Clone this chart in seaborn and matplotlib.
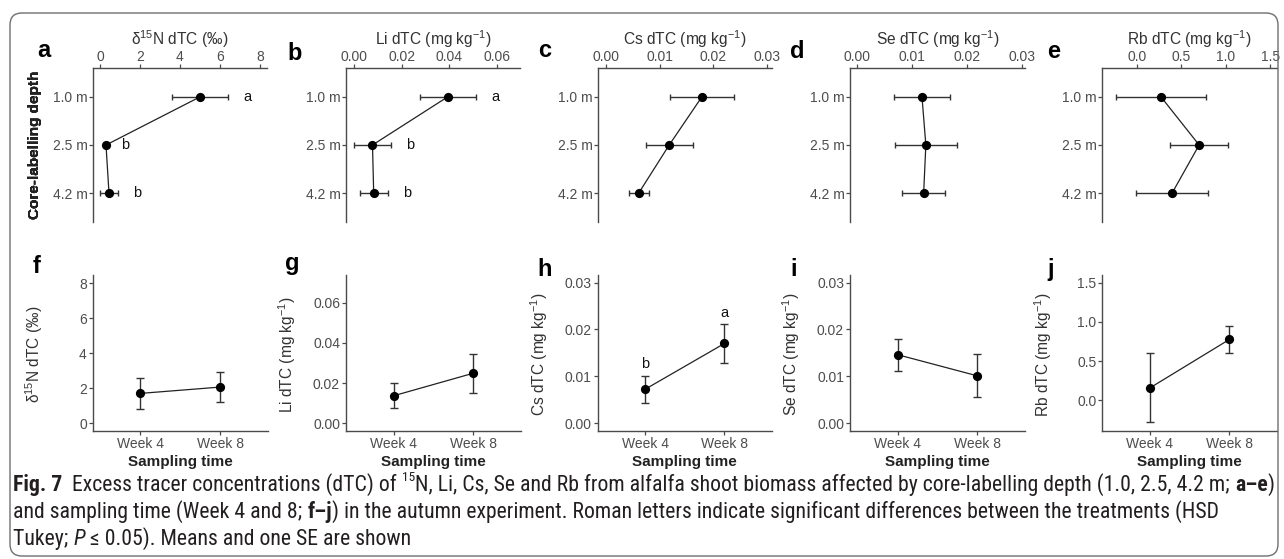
import matplotlib
matplotlib.use("Agg")
import matplotlib.pyplot as plt
import seaborn as sns
import numpy as np
from matplotlib import font_manager
from matplotlib.patches import FancyBboxPatch
from matplotlib.ticker import FormatStrFormatter

# ---------------- data ----------------
depth_labels = ["1.0 m", "2.5 m", "4.2 m"]
week_labels = ["Week 4", "Week 8"]

n15_depth_mean = [5.00, 0.30, 0.45]
n15_depth_se = [1.39, 0.00, 0.43]
li_depth_mean = [0.0393, 0.0078, 0.0083]
li_depth_se = [0.0117, 0.0078, 0.0058]
cs_depth_mean = [0.0179, 0.0118, 0.0061]
cs_depth_se = [0.0060, 0.0044, 0.0019]
se_depth_mean = [0.0118, 0.0125, 0.0121]
se_depth_se = [0.0051, 0.0056, 0.0039]
rb_depth_mean = [0.27, 0.70, 0.395]
rb_depth_se = [0.51, 0.33, 0.405]

n15_depth_letters = ["a", "b", "b"]
li_depth_letters = ["a", "b", "b"]

n15_time_mean = [1.71, 2.07]
n15_time_se = [0.90, 0.85]
li_time_mean = [0.0137, 0.0249]
li_time_se = [0.0062, 0.0098]
cs_time_mean = [0.00725, 0.0170]
cs_time_se = [0.0029, 0.0042]
se_time_mean = [0.0146, 0.0101]
se_time_se = [0.0034, 0.0046]
rb_time_mean = [0.157, 0.776]
rb_time_se = [0.44, 0.175]

cs_time_letters = ["b", "a"]

title_n15 = r"δ${}^{15}$N dTC (‰)"
title_li = r"Li dTC (mg kg$^{-1}$)"
title_cs = r"Cs dTC (mg kg$^{-1}$)"
title_se = r"Se dTC (mg kg$^{-1}$)"
title_rb = r"Rb dTC (mg kg$^{-1}$)"

# ---------------- style ----------------
sns.set_theme(style="ticks")
plt.rcParams["font.family"] = ["Liberation Sans", "DejaVu Sans"]
plt.rcParams["mathtext.fontset"] = "custom"
plt.rcParams["mathtext.rm"] = "Liberation Sans"
plt.rcParams["mathtext.it"] = "Liberation Sans:italic"
plt.rcParams["mathtext.bf"] = "Liberation Sans:bold"
plt.rcParams["mathtext.sf"] = "Liberation Sans"

W, H = 1284, 559
fig = plt.figure(figsize=(W / 100, H / 100), dpi=100)

SPINE = "#4a4a4a"
TICKC = "#4D4D4D"
TITLEC = "#333333"
TICKSIZE = 10
TITLESIZE = 11.2


def add_ax(x0, x1, y0, y1):
    return fig.add_axes([x0 / W, 1 - y1 / H, (x1 - x0) / W, (y1 - y0) / H])


def style_common(ax):
    for s in ax.spines.values():
        s.set_color(SPINE)
        s.set_linewidth(1.0)
    ax.set_facecolor("none")


# ---------------- top row ----------------
top_specs = [
    (93, 267, n15_depth_mean, n15_depth_se, (-0.35, 8.35), [0, 2, 4, 6, 8], "%d", title_n15, n15_depth_letters, "a", 37, 57),
    (346, 520, li_depth_mean, li_depth_se, (-0.0033, 0.0696), [0, 0.02, 0.04, 0.06], "%.2f", title_li, li_depth_letters, "b", 287, 60),
    (598, 772, cs_depth_mean, cs_depth_se, (-0.0015, 0.0310), [0, 0.01, 0.02, 0.03], "%.2f", title_cs, None, "c", 538, 57),
    (850, 1025, se_depth_mean, se_depth_se, (-0.00127, 0.0305), [0, 0.01, 0.02, 0.03], "%.2f", title_se, None, "d", 790, 58),
    (1102, 1277, rb_depth_mean, rb_depth_se, (-0.395, 1.578), [0, 0.5, 1.0, 1.5], "%.1f", title_rb, None, "e", 1047, 58),
]

pos3 = np.arange(len(depth_labels))
for (x0, x1, mean, se, xlim, xt, fmt, title, letters, tag, tx, ty) in top_specs:
    ax = add_ax(x0, x1, 68, 222)
    style_common(ax)
    ax.errorbar(mean, pos3, xerr=se, fmt="none", ecolor="#333333", elinewidth=1.0,
                capsize=1.9, capthick=1.0, zorder=2)
    sns.lineplot(x=mean, y=pos3, orient="y", estimator=None, sort=False,
                 color="#222222", linewidth=0.9, ax=ax, zorder=3)
    sns.scatterplot(x=mean, y=pos3, color="black", s=44, linewidth=0, ax=ax, zorder=4)
    if letters is not None:
        for m, e, p, l in zip(mean, se, pos3, letters):
            ax.annotate(l, xy=(m + e, p), xytext=(14, 0), textcoords="offset points",
                        ha="center", va="center", fontsize=10.5, color="#111111")
    ax.set_xlim(*xlim)
    ax.set_ylim(2.6, -0.6)
    ax.set_xticks(xt)
    ax.xaxis.set_major_formatter(FormatStrFormatter(fmt))
    ax.set_yticks(pos3)
    ax.set_yticklabels(depth_labels)
    ax.xaxis.tick_top()
    ax.xaxis.set_label_position("top")
    ax.spines["bottom"].set_visible(False)
    ax.spines["right"].set_visible(False)
    ax.tick_params(axis="both", direction="out", length=2.75, width=0.9, color=SPINE,
                   labelsize=TICKSIZE, labelcolor=TICKC, pad=1.2)
    ax.tick_params(axis="x", pad=0.3)
    ax.set_xlabel(title, fontsize=TITLESIZE, color=TITLEC, labelpad=3.5)
    ax.set_ylabel("Core-labelling depth", fontsize=11, fontweight="bold", color="#222222")
    ax.yaxis.set_label_coords((42 - x0) / (x1 - x0), 0.5)
    fig.text(tx / W, 1 - ty / H, tag, fontsize=17, fontweight="bold", color="black",
             ha="left", va="baseline")

# ---------------- bottom row ----------------
bot_specs = [
    (92.7, 267.8, n15_time_mean, n15_time_se, (-0.42, 8.47), [0, 2, 4, 6, 8], "%d", title_n15, None, "f", 33, 273),
    (346, 521, li_time_mean, li_time_se, (-0.0037, 0.0738), [0, 0.02, 0.04, 0.06], "%.2f", title_li, None, "g", 285, 270),
    (597.7, 772, cs_time_mean, cs_time_se, (-0.0016, 0.0316), [0, 0.01, 0.02, 0.03], "%.2f", title_cs, cs_time_letters, "h", 537, 276),
    (850, 1025, se_time_mean, se_time_se, (-0.0016, 0.0316), [0, 0.01, 0.02, 0.03], "%.2f", title_se, None, "i", 790, 276),
    (1102.3, 1277, rb_time_mean, rb_time_se, (-0.39, 1.60), [0, 0.5, 1.0, 1.5], "%.1f", title_rb, None, "j", 1047, 276),
]

pos2 = np.arange(len(week_labels))
for (x0, x1, mean, se, ylim, yt, fmt, title, letters, tag, tx, ty) in bot_specs:
    ax = add_ax(x0, x1, 275, 430.7)
    style_common(ax)
    ax.errorbar(pos2, mean, yerr=se, fmt="none", ecolor="#333333", elinewidth=1.0,
                capsize=2.9, capthick=1.0, zorder=2)
    sns.lineplot(x=pos2, y=mean, estimator=None, sort=False,
                 color="#222222", linewidth=0.9, ax=ax, zorder=3)
    sns.scatterplot(x=pos2, y=mean, color="black", s=44, linewidth=0, ax=ax, zorder=4)
    if letters is not None:
        for p, m, e, l in zip(pos2, mean, se, letters):
            ax.annotate(l, xy=(p, m + e), xytext=(0, 3), textcoords="offset points",
                        ha="center", va="bottom", fontsize=10.5, color="#111111")
    ax.set_xlim(-0.6, 1.6)
    ax.set_ylim(*ylim)
    ax.set_yticks(yt)
    ax.yaxis.set_major_formatter(FormatStrFormatter(fmt))
    ax.set_xticks(pos2)
    ax.set_xticklabels(week_labels)
    ax.spines["top"].set_visible(False)
    ax.spines["right"].set_visible(False)
    ax.tick_params(axis="both", direction="out", length=2.75, width=0.9, color=SPINE,
                   labelsize=TICKSIZE, labelcolor=TICKC, pad=1.5)
    ax.set_ylabel(title, fontsize=TITLESIZE, color=TITLEC)
    ax.yaxis.set_label_coords((x0 - 48 - x0) / (x1 - x0), 0.49)
    ax.set_xlabel("Sampling time", fontsize=11, fontweight="bold", color="#222222", labelpad=3.5)
    fig.text(tx / W, 1 - ty / H, tag, fontsize=17, fontweight="bold", color="black",
             ha="left", va="baseline")

# ---------------- caption ----------------
def pick_font(cands):
    for c in cands:
        try:
            font_manager.findfont(c, fallback_to_default=False)
            return c
        except Exception:
            continue
    return "DejaVu Sans"

cap_font = pick_font(["Liberation Sans Narrow", "Roboto Condensed", "Liberation Sans"])

renderer = fig.canvas.get_renderer()


def seg_width(txt, size, weight="normal", style="normal"):
    t = fig.text(0, 0, txt + "|", fontsize=size, fontweight=weight, fontstyle=style,
                 family=cap_font)
    w1 = t.get_window_extent(renderer).width
    t.remove()
    t = fig.text(0, 0, "|", fontsize=size, fontweight=weight, fontstyle=style, family=cap_font)
    w2 = t.get_window_extent(renderer).width
    t.remove()
    return w1 - w2


caption_lines = [
    [("Fig. 7", "bold", "normal", False), ("  Excess tracer concentrations (dTC) of ", "normal", "normal", False),
     ("15", "normal", "normal", True),
     ("N, Li, Cs, Se and Rb from alfalfa shoot biomass affected by core-labelling depth (1.0, 2.5, 4.2 m; ", "normal", "normal", False),
     ("a–e", "bold", "normal", False), (")", "normal", "normal", False)],
    [("and sampling time (Week 4 and 8; ", "normal", "normal", False), ("f–j", "bold", "normal", False),
     (") in the autumn experiment. Roman letters indicate significant differences between the treatments (HSD", "normal", "normal", False)],
    [("Tukey; ", "normal", "normal", False), ("P", "normal", "italic", False),
     (" ≤ 0.05). Means and one SE are shown", "normal", "normal", False)],
]


def line_width(line, size):
    w = 0
    for txt, wt, st, sup in line:
        w += seg_width(txt, size * (0.62 if sup else 1.0), wt, st)
    return w

base = 10.0
scale = (1268 - 13) / line_width(caption_lines[0], base)
cap_size = base * scale

baselines = [491, 518, 545]
for line, yb in zip(caption_lines, baselines):
    x = 13.0
    for txt, wt, st, sup in line:
        sz = cap_size * (0.62 if sup else 1.0)
        yy = yb - (cap_size * 0.45 * 100 / 72 if sup else 0)
        fig.text(x / W, 1 - yy / H, txt, fontsize=sz, fontweight=wt, fontstyle=st,
                 family=cap_font, color="#231f20", ha="left", va="baseline")
        x += seg_width(txt, sz, wt, st)

# ---------------- border ----------------
border = FancyBboxPatch((0.10, (H - 556) / 100), (1278 - 10) / 100, (556 - 13) / 100,
                        boxstyle="round,pad=0,rounding_size=0.12",
                        transform=fig.dpi_scale_trans, facecolor="none",
                        edgecolor="#6d6e71", linewidth=1.0)
fig.patches.append(border)

fig.savefig("out.png", dpi=100)
